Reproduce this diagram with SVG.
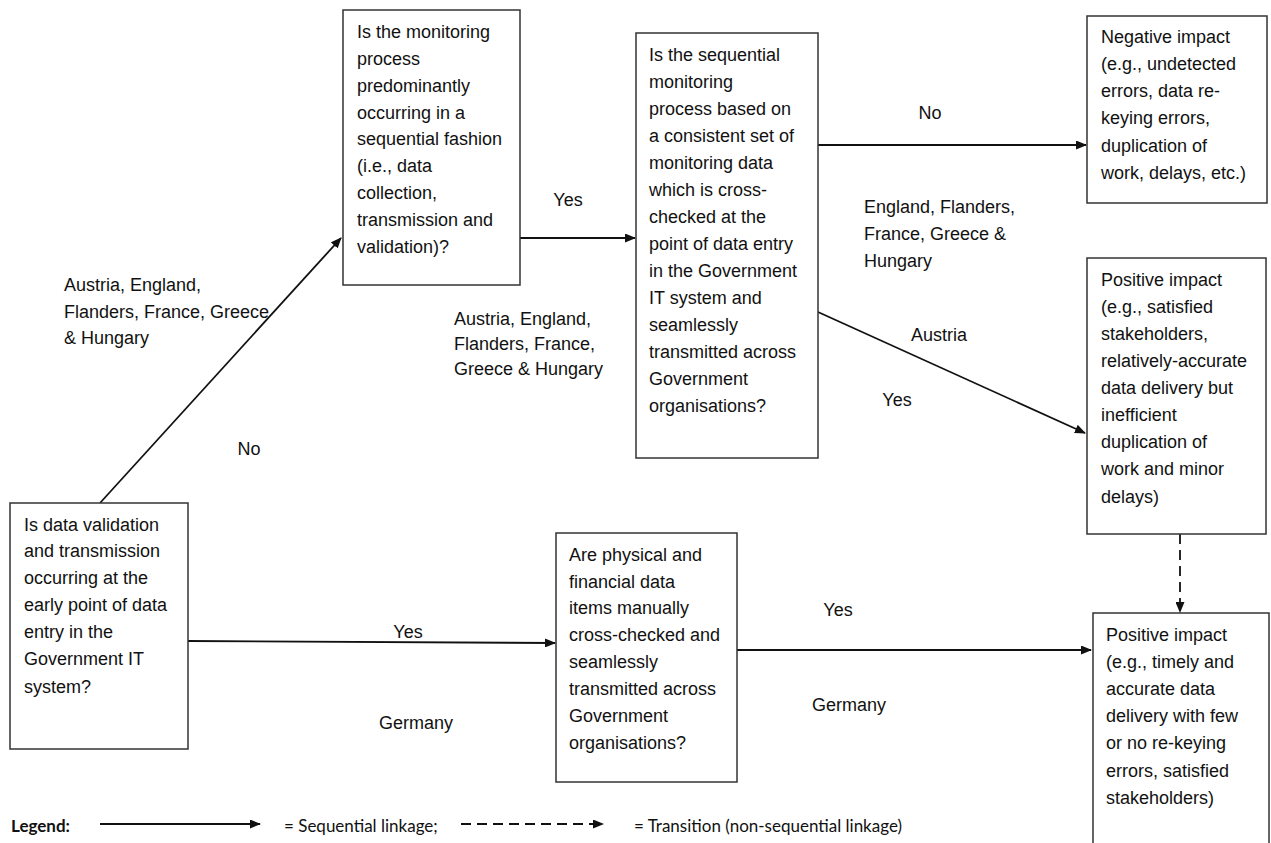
<svg xmlns="http://www.w3.org/2000/svg" width="1271" height="843" viewBox="0 0 1271 843">
<style>
.box{fill:#fff;stroke:#333;stroke-width:1.5}
.t{font-family:"Liberation Sans",Arial,sans-serif;font-size:18px;fill:#111}
.lg{font-family:Lato,"Open Sans",sans-serif;font-size:17px;fill:#111}
.c{stroke:#111;stroke-width:1.8;fill:none}
.d{stroke:#111;stroke-width:1.8;fill:none;stroke-dasharray:10,6}
</style>
<defs>
<marker id="ah" markerWidth="11" markerHeight="9" refX="10" refY="4.5" orient="auto" markerUnits="userSpaceOnUse">
<path d="M0,0 L11,4.5 L0,9 Z" fill="#111"/>
</marker>
</defs>
<rect width="1271" height="843" fill="#fff"/>

<g id="connectors">
<line class="c" x1="100" y1="503" x2="341" y2="238" marker-end="url(#ah)"/>
<line class="c" x1="520" y1="238" x2="635" y2="238" marker-end="url(#ah)"/>
<line class="c" x1="818" y1="145" x2="1086" y2="145" marker-end="url(#ah)"/>
<line class="c" x1="818" y1="312" x2="1085" y2="433" marker-end="url(#ah)"/>
<line class="d" x1="1180" y1="534" x2="1180" y2="612" marker-end="url(#ah)"/>
<line class="c" x1="188" y1="641" x2="555" y2="643" marker-end="url(#ah)"/>
<line class="c" x1="737" y1="650" x2="1091" y2="650" marker-end="url(#ah)"/>
</g>

<g id="labels">
<text class="t"><tspan x="64" y="291">Austria, England,</tspan><tspan x="64" y="318">Flanders, France, Greece</tspan><tspan x="64" y="344">&amp; Hungary</tspan></text>
<text class="t" x="249" y="455" text-anchor="middle">No</text>
<text class="t" x="568" y="206" text-anchor="middle">Yes</text>
<text class="t"><tspan x="454" y="325">Austria, England,</tspan><tspan x="454" y="350">Flanders, France,</tspan><tspan x="454" y="375">Greece &amp; Hungary</tspan></text>
<text class="t" x="930" y="119" text-anchor="middle">No</text>
<text class="t"><tspan x="864" y="213">England, Flanders,</tspan><tspan x="864" y="240">France, Greece &amp;</tspan><tspan x="864" y="267">Hungary</tspan></text>
<text class="t" x="939" y="341" text-anchor="middle">Austria</text>
<text class="t" x="897" y="406" text-anchor="middle">Yes</text>
<text class="t" x="408" y="638" text-anchor="middle">Yes</text>
<text class="t" x="416" y="729" text-anchor="middle">Germany</text>
<text class="t" x="838" y="616" text-anchor="middle">Yes</text>
<text class="t" x="849" y="711" text-anchor="middle">Germany</text>
</g>

<g id="nodeA">
<rect class="box" x="343" y="10" width="177" height="275"/>
<text class="t"><tspan x="357" y="38">Is the monitoring</tspan><tspan x="357" y="65">process</tspan><tspan x="357" y="92">predominantly</tspan><tspan x="357" y="119">occurring in a</tspan><tspan x="357" y="145">sequential fashion</tspan><tspan x="357" y="172">(i.e., data</tspan><tspan x="357" y="199">collection,</tspan><tspan x="357" y="226">transmission and</tspan><tspan x="357" y="253">validation)?</tspan></text>
</g>

<g id="nodeB">
<rect class="box" x="636" y="33" width="182" height="425"/>
<text class="t"><tspan x="649" y="61">Is the sequential</tspan><tspan x="649" y="88">monitoring</tspan><tspan x="649" y="115">process based on</tspan><tspan x="649" y="142">a consistent set of</tspan><tspan x="649" y="169">monitoring data</tspan><tspan x="649" y="196">which is cross-</tspan><tspan x="649" y="223">checked at the</tspan><tspan x="649" y="250">point of data entry</tspan><tspan x="649" y="277">in the Government</tspan><tspan x="649" y="304">IT system and</tspan><tspan x="649" y="331">seamlessly</tspan><tspan x="649" y="358">transmitted across</tspan><tspan x="649" y="385">Government</tspan><tspan x="649" y="412">organisations?</tspan></text>
</g>

<g id="nodeC">
<rect class="box" x="1087" y="16" width="180" height="187"/>
<text class="t"><tspan x="1101" y="43">Negative impact</tspan><tspan x="1101" y="70">(e.g., undetected</tspan><tspan x="1101" y="97">errors, data re-</tspan><tspan x="1101" y="124">keying errors,</tspan><tspan x="1101" y="152">duplication of</tspan><tspan x="1101" y="179">work, delays, etc.)</tspan></text>
</g>

<g id="nodeD">
<rect class="box" x="1087" y="258" width="179" height="276"/>
<text class="t"><tspan x="1101" y="286">Positive impact</tspan><tspan x="1101" y="313">(e.g., satisfied</tspan><tspan x="1101" y="340">stakeholders,</tspan><tspan x="1101" y="367">relatively-accurate</tspan><tspan x="1101" y="394">data delivery but</tspan><tspan x="1101" y="421">inefficient</tspan><tspan x="1101" y="448">duplication of</tspan><tspan x="1101" y="475">work and minor</tspan><tspan x="1101" y="503">delays)</tspan></text>
</g>

<g id="nodeE">
<rect class="box" x="1093" y="613" width="176" height="250"/>
<text class="t"><tspan x="1106" y="641">Positive impact</tspan><tspan x="1106" y="668">(e.g., timely and</tspan><tspan x="1106" y="695">accurate data</tspan><tspan x="1106" y="722">delivery with few</tspan><tspan x="1106" y="749">or no re-keying</tspan><tspan x="1106" y="777">errors, satisfied</tspan><tspan x="1106" y="804">stakeholders)</tspan></text>
</g>

<g id="nodeF">
<rect class="box" x="556" y="533" width="181" height="249"/>
<text class="t"><tspan x="569" y="561">Are physical and</tspan><tspan x="569" y="588">financial data</tspan><tspan x="569" y="614">items manually</tspan><tspan x="569" y="641">cross-checked and</tspan><tspan x="569" y="668">seamlessly</tspan><tspan x="569" y="695">transmitted across</tspan><tspan x="569" y="722">Government</tspan><tspan x="569" y="749">organisations?</tspan></text>
</g>

<g id="nodeG">
<rect class="box" x="10" y="503" width="178" height="246"/>
<text class="t"><tspan x="24" y="531">Is data validation</tspan><tspan x="24" y="557">and transmission</tspan><tspan x="24" y="584">occurring at the</tspan><tspan x="24" y="611">early point of data</tspan><tspan x="24" y="638">entry in the</tspan><tspan x="24" y="665">Government IT</tspan><tspan x="24" y="693">system?</tspan></text>
</g>

<g id="legend">
<text class="lg" x="11" y="832" font-weight="bold">Legend:</text>
<line class="c" x1="100" y1="824" x2="260" y2="824" marker-end="url(#ah)"/>
<text class="lg" x="284" y="832">= Sequential linkage;</text>
<line class="d" x1="461" y1="824" x2="603" y2="824" marker-end="url(#ah)"/>
<text class="lg" x="634" y="832">= Transition (non-sequential linkage)</text>
</g>
</svg>
